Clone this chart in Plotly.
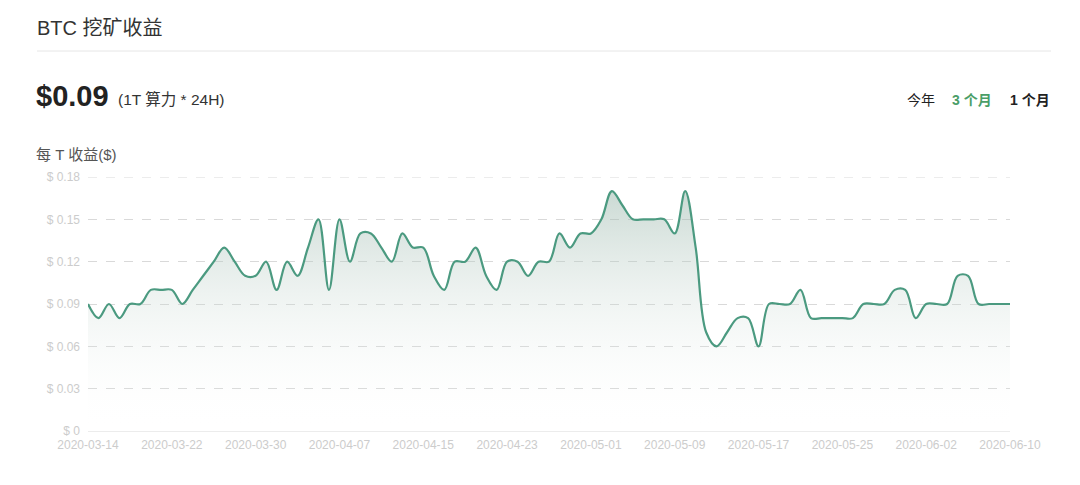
import plotly.graph_objects as go
import pandas as pd

dates = pd.date_range("2020-03-14", "2020-06-10", freq="D").strftime("%Y-%m-%d").tolist()
values = [
    0.09, 0.08, 0.09, 0.08, 0.09, 0.09, 0.10, 0.10, 0.10, 0.09,
    0.10, 0.11, 0.12, 0.13, 0.12, 0.11, 0.11, 0.12, 0.10, 0.12,
    0.11, 0.13, 0.15, 0.10, 0.15, 0.12, 0.14, 0.14, 0.13, 0.12,
    0.14, 0.13, 0.13, 0.11, 0.10, 0.12, 0.12, 0.13, 0.11, 0.10,
    0.12, 0.12, 0.11, 0.12, 0.12, 0.14, 0.13, 0.14, 0.14, 0.15,
    0.17, 0.16, 0.15, 0.15, 0.15, 0.15, 0.14, 0.17, 0.13, 0.07,
    0.06, 0.07, 0.08, 0.08, 0.06, 0.09, 0.09, 0.09, 0.10, 0.08,
    0.08, 0.08, 0.08, 0.08, 0.09, 0.09, 0.09, 0.10, 0.10, 0.08,
    0.09, 0.09, 0.09, 0.11, 0.11, 0.09, 0.09, 0.09, 0.09,
]
y_ticks = [0, 0.03, 0.06, 0.09, 0.12, 0.15, 0.18]
y_ticktext = ["$ 0", "$ 0.03", "$ 0.06", "$ 0.09", "$ 0.12", "$ 0.15", "$ 0.18"]
x_ticks = dates[::8]

line_color = "#4b9a80"
grid_color = "#d9d9d9"
font = "Liberation Sans, Noto Sans CJK SC, sans-serif"

# page pixel -> paper coords (plot area spans x 88..1010, y 177..431 on the page)
def px(x):
    return (x - 88) / 922

def py(y):
    return (431 - y) / 254

fig = go.Figure()
fig.add_trace(go.Scatter(
    x=dates, y=values, mode="lines",
    line=dict(color=line_color, width=2.2, shape="spline", smoothing=1.0),
    fill="tozeroy",
    fillgradient=dict(type="vertical",
                      colorscale=[[0, "rgba(255,255,255,0)"], [1, "rgba(150,180,168,0.5)"]]),
    hoverinfo="skip",
))

fig.update_layout(
    width=1072, height=477,
    margin=dict(l=80, r=70, t=169, b=54),
    paper_bgcolor="white", plot_bgcolor="white",
    showlegend=False,
    font=dict(family=font),
    xaxis=dict(
        type="category", tickmode="array", tickvals=x_ticks, ticktext=x_ticks,
        range=[0, len(dates) - 1],
        showgrid=False, zeroline=False,
        showline=True, linecolor="#ececec", linewidth=1,
        ticks="", tickfont=dict(size=12, color="#cccccc"),
        ticklabelstandoff=3,
    ),
    yaxis=dict(
        range=[0, y_ticks[-1]], tickmode="array", tickvals=y_ticks, ticktext=y_ticktext,
        showgrid=True, gridcolor=grid_color, griddash="dash", gridwidth=1,
        zeroline=False, showline=False, ticks="",
        tickfont=dict(size=12, color="#cccccc"),
        ticklabelstandoff=7,
    ),
)

# top gridline (at the edge of the range, not drawn by plotly itself)
fig.add_shape(type="line", xref="paper", yref="y", x0=0, x1=1,
              y0=y_ticks[-1], y1=y_ticks[-1],
              line=dict(color=grid_color, width=1, dash="dash"), layer="below")

def note(x, y, text, size, color, anchor="left"):
    fig.add_annotation(xref="paper", yref="paper", x=px(x), y=py(y), text=text,
                       showarrow=False, xanchor=anchor, yanchor="middle",
                       font=dict(size=size, color=color, family=font))

note(35, 28, "BTC 挖矿收益", 20, "#333333")
fig.add_shape(type="line", xref="paper", yref="paper",
              x0=px(37), x1=px(1051), y0=py(51), y1=py(51),
              line=dict(color="#e6e6e6", width=1))
note(34, 96, "<b>$0.09</b>", 29, "#222222")
note(116, 99, "(1T 算力 * 24H)", 15.5, "#333333")
note(905, 100, "今年", 14, "#222222")
note(950, 100, "<b>3 个月</b>", 14, "#4a9e68")
note(1008, 100, "<b>1 个月</b>", 14, "#222222")
note(34, 155, "每 T 收益($)", 15, "#555555")

fig.write_html("out.html")
